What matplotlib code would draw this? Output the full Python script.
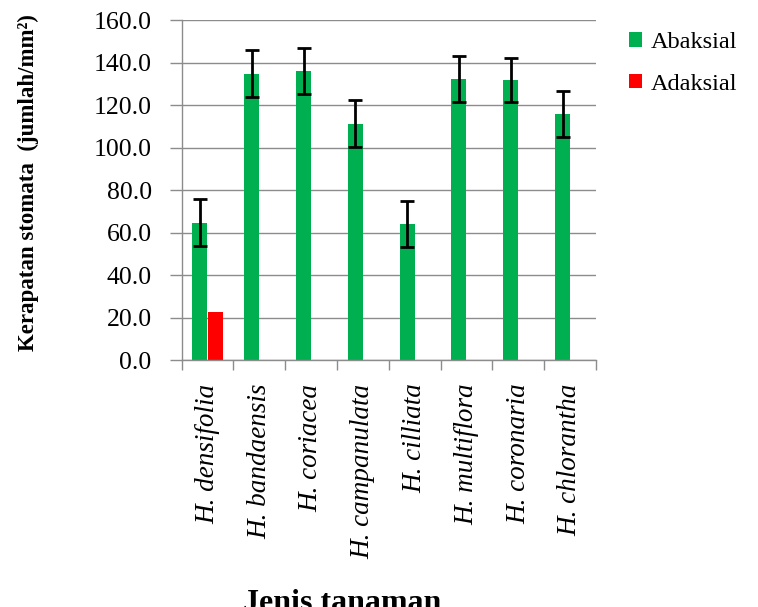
import matplotlib
matplotlib.use("Agg")
import matplotlib.pyplot as plt
import numpy as np
from matplotlib.ticker import FixedLocator, FuncFormatter

categories = ["H. densifolia", "H. bandaensis", "H. coriacea", "H. campanulata",
              "H. cilliata", "H. multiflora", "H. coronaria", "H. chlorantha"]
abaksial = [64.6, 134.7, 136.0, 111.2, 64.0, 132.4, 131.8, 115.6]
abaksial_err = [11.0, 11.0, 11.0, 11.0, 11.0, 10.8, 10.5, 10.8]
adaksial = [22.4, 0, 0, 0, 0, 0, 0, 0]
yticks = [0, 20, 40, 60, 80, 100, 120, 140, 160]

plt.rcParams['font.family'] = ['Liberation Serif', 'DejaVu Serif']

fig = plt.figure(figsize=(7.58, 6.07), dpi=100)
ax = fig.add_axes([0.2397, 0.4069, 0.7863 - 0.2397, 0.967 - 0.4069])

x = np.arange(len(categories))
w = 0.29
off = 0.147
green = "#00b050"
red = "#ff0000"

ax.set_axisbelow(True)
ax.yaxis.grid(True, color="#8c8c8c", linewidth=1.0)
ax.bar(x - off, abaksial, width=w, color=green, label="Abaksial", zorder=2)
ax.errorbar(x - off, abaksial, yerr=abaksial_err, fmt="none", ecolor="black",
            elinewidth=2, capsize=4.7, capthick=2, zorder=3)
ax.bar(x + off, adaksial, width=w, color=red, label="Adaksial", zorder=2)

ax.set_xlim(-0.5, len(categories) - 0.5)
ax.set_ylim(0, 160)
ax.set_yticks(yticks)
ax.yaxis.set_major_formatter(FuncFormatter(lambda v, p: f"{v:.1f}"))
ax.tick_params(axis="y", length=8.6, width=1, color="#8c8c8c", pad=13, labelsize=18.5)

ax.xaxis.set_major_locator(FixedLocator(np.arange(-0.5, len(categories), 1.0)))
ax.xaxis.set_major_formatter(FuncFormatter(lambda v, p: ""))
ax.xaxis.set_minor_locator(FixedLocator(x))
ax.set_xticklabels(categories, minor=True, rotation=90, fontstyle="italic",
                   fontsize=19.5, va="top", ha="center")
ax.tick_params(axis="x", which="major", length=7.5, width=1, color="#8c8c8c")
ax.tick_params(axis="x", which="minor", length=0, pad=17)

for s in ["top", "right"]:
    ax.spines[s].set_visible(False)
for s in ["left", "bottom"]:
    ax.spines[s].set_color("#8c8c8c")
    ax.spines[s].set_linewidth(1.0)

fig.text(0.037, 0.7, "Kerapatan stomata  (jumlah/mm²)", rotation=90,
         fontweight="bold", fontsize=16.5, ha="center", va="center")
fig.text(0.452, -0.006, "Jenis tanaman", fontweight="bold", fontsize=23,
         ha="center", va="baseline")

ax.legend(loc="upper left", bbox_to_anchor=(629 / 758, 1 - 32 / 607),
          bbox_transform=fig.transFigure, frameon=False,
          fontsize=17.5, handlelength=0.55, handleheight=0.55, handletextpad=0.35,
          labelspacing=0.85, borderaxespad=0, borderpad=0)

fig.savefig("out.png", dpi=100)
